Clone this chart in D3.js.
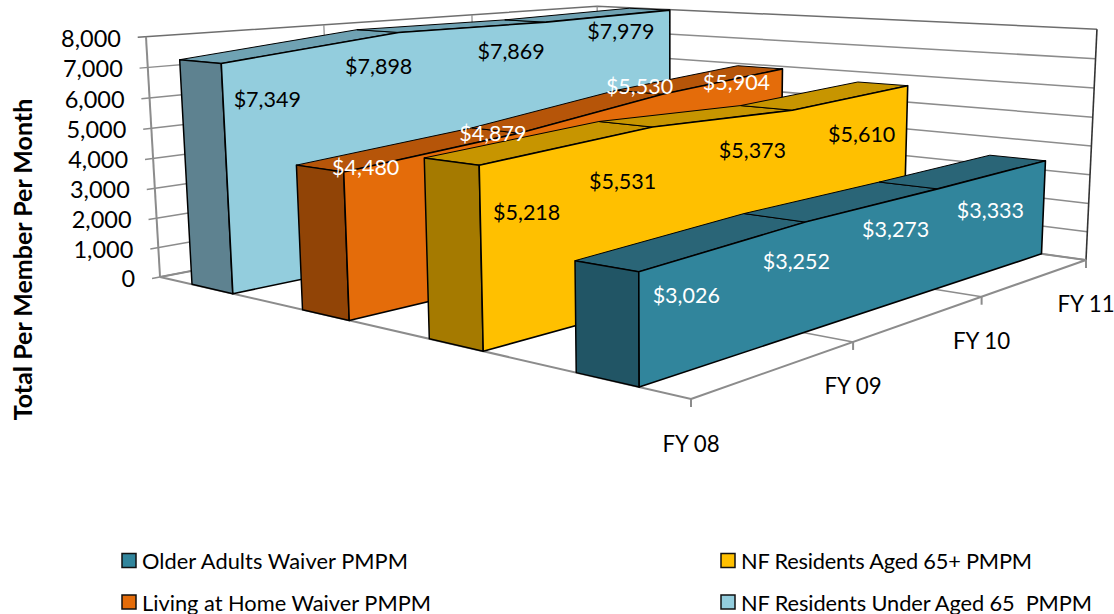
<!DOCTYPE html>
<html>
<head>
<meta charset="utf-8">
<script src="https://cdnjs.cloudflare.com/ajax/libs/d3/7.8.5/d3.min.js"></script>
<style>
html,body{margin:0;padding:0;background:#fff;}
svg{display:block;}
text{font-family:Lato,"Open Sans",sans-serif;white-space:pre;}
</style>
</head>
<body>
<svg id="chart" width="1114" height="614"></svg>
<script>
// ---- data ----
const categories = ["FY 08","FY 09","FY 10","FY 11"];
const seriesNames = ["Older Adults Waiver PMPM","Living at Home Waiver PMPM","NF Residents Aged 65+ PMPM","NF Residents Under Aged 65  PMPM"];
// depth order along the floor, front to back
const depthOrder = ["Older Adults Waiver PMPM","NF Residents Aged 65+ PMPM","Living at Home Waiver PMPM","NF Residents Under Aged 65  PMPM"];
const olderAdults = [3026,3252,3273,3333];
const livingAtHome = [4480,4879,5530,5904];
const nfAged65 = [5218,5531,5373,5610];
const nfUnder65 = [7349,7898,7869,7979];
const valueTicks = [0,1000,2000,3000,4000,5000,6000,7000,8000];

// ---- styles and layout, kept apart from data ----
const seriesStyles = {
  "Older Adults Waiver PMPM":{values:olderAdults,front:"#31859C",top:"#2A6577",side:"#215565",label:"#ffffff",
    offsets:[[47.5,23],[-9,39],[-42,40],[-55,49]]},
  "NF Residents Aged 65+ PMPM":{values:nfAged65,front:"#FFC000",top:"#C79500",side:"#A57A00",label:"#000000",
    offsets:[[47.5,47],[-30,54],[-40,40],[-46,48]]},
  "Living at Home Waiver PMPM":{values:livingAtHome,front:"#E46C0A",top:"#B65509",side:"#914406",label:"#ffffff",
    offsets:[[22,-5],[-26,0],[-23,-8],[-46,13]]},
  "NF Residents Under Aged 65  PMPM":{values:nfUnder65,front:"#93CDDD",top:"#6FA2B3",side:"#5E8290",label:"#000000",
    offsets:[[46,36],[-20,34],[-35,29],[-49,21]]}
};

const svg = d3.select("#chart");

// Scales in chart-box units (0..1), then a perspective projection onto the page
const uScale = d3.scalePoint().domain(categories).range([0,1]);
const vScale = d3.scaleBand().domain(depthOrder).range([-0.002,0.998]).paddingInner(0.615).paddingOuter(0.3075);
const hScale = d3.scaleLinear().domain([0,8000]).range([0,1]);
const fmt = d3.format(",");

function project(u,v,h){
  const X = 691 + 820.7*u - 477.2*v - 24*h;
  const Y = 399 - 37.1*u - 29*v - 322.3*h;
  const Z = 1 + 0.392*u + 0.336*v - 0.0358*h;
  return [X/Z, Y/Z];
}
const line = d3.line();
const closed = pts => line(pts)+"Z";

// ---- walls and gridlines ----
const grid = svg.append("g").attr("fill","none");
const gridCol = "#8c8c8c";
valueTicks.forEach(t=>{
  const h = hScale(t);
  grid.append("path").attr("d",line([project(-0.014,1,h),project(1,1,h),project(1,0,h)]))
      .attr("stroke",t===8000?"#6e6e6e":gridCol).attr("stroke-width",1.5);
});
// wall verticals at categories
categories.slice(1,3).forEach(c=>{
  const u = uScale(c);
  grid.append("path").attr("d",line([project(u,1,0),project(u,1,1)])).attr("stroke",gridCol).attr("stroke-width",1.2);
});
grid.append("path").attr("d",line([project(0,1,0),project(0,1,1)])).attr("stroke",gridCol).attr("stroke-width",2);
grid.append("path").attr("d",line([project(1,1,0),project(1,1,1)])).attr("stroke",gridCol).attr("stroke-width",1.2);
grid.append("path").attr("d",line([project(1,0,0),project(1,0,1)])).attr("stroke","#333").attr("stroke-width",1.6);
// floor
grid.append("path").attr("d",closed([project(0,0,0),project(1,0,0),project(1,1,0),project(0,1,0)]))
    .attr("stroke",gridCol).attr("stroke-width",2);
categories.slice(1,3).forEach(c=>{
  const u = uScale(c);
  grid.append("path").attr("d",line([project(u,0,0),project(u,1,0)])).attr("stroke",gridCol).attr("stroke-width",1.6);
});

// ---- ribbons, back to front ----
const marks = svg.append("g").attr("stroke","#000").attr("stroke-linejoin","round");
depthOrder.slice().reverse().forEach(name=>{
  const s = seriesStyles[name];
  const v0 = vScale(name), v1 = v0 + vScale.bandwidth();
  const g = marks.append("g");
  // top faces
  d3.pairs(categories.map((c,i)=>({u:uScale(c),h:hScale(s.values[i])}))).forEach(([a,b])=>{
    g.append("path").attr("d",closed([project(a.u,v0,a.h),project(b.u,v0,b.h),project(b.u,v1,b.h),project(a.u,v1,a.h)]))
      .attr("fill",s.top).attr("stroke-width",1);
  });
  // end cap
  const h0 = hScale(s.values[0]);
  g.append("path").attr("d",closed([project(0,v0,0),project(0,v0,h0),project(0,v1,h0),project(0,v1,0)]))
    .attr("fill",s.side).attr("stroke-width",1.5);
  // front face
  const topEdge = categories.map((c,i)=>project(uScale(c),v0,hScale(s.values[i])));
  g.append("path").attr("d",closed([project(0,v0,0),...topEdge,project(1,v0,0)]))
    .attr("fill",s.front).attr("stroke-width",1.6);
});

// ---- data labels ----
const labels = svg.append("g").attr("font-size",21.5).attr("text-anchor","middle").attr("dominant-baseline","central");
depthOrder.slice().reverse().forEach(name=>{
  const s = seriesStyles[name];
  const v0 = vScale(name);
  categories.forEach((c,i)=>{
    const p = project(uScale(c),v0,hScale(s.values[i]));
    labels.append("text").attr("x",p[0]+s.offsets[i][0]).attr("y",p[1]+s.offsets[i][1])
      .attr("fill",s.label).text("$"+fmt(s.values[i]));
  });
});

// ---- value axis ----
const yAxis = svg.append("g");
valueTicks.forEach(t=>{
  const p = project(0,1,hScale(t));
  yAxis.append("text").attr("x",p[0]-25).attr("y",p[1]+1).attr("text-anchor","end")
    .attr("dominant-baseline","central").attr("font-size",23.5).attr("fill","#000").text(fmt(t));
});
svg.append("text").attr("transform","translate(32,259.5) rotate(-90)").attr("text-anchor","middle")
  .attr("font-size",25).attr("font-weight",700).attr("fill","#000")
  .text("Total Per Member Per Month");

// ---- category axis ----
const xAxis = svg.append("g");
categories.forEach(c=>{
  const p = project(uScale(c),0,0);
  xAxis.append("line").attr("x1",p[0]).attr("x2",p[0]).attr("y1",p[1]).attr("y2",p[1]+8)
    .attr("stroke",gridCol).attr("stroke-width",2);
  xAxis.append("text").attr("x",p[0]).attr("y",p[1]+44).attr("text-anchor","middle")
    .attr("dominant-baseline","central").attr("font-size",22.3).attr("fill","#000").text(c);
});

// ---- legend ----
const legendCols = [122,721];
const legendRows = [560.5,602];
const legend = svg.append("g");
const legendLayout = [
  {name:seriesNames[0],col:0,row:0,width:266},
  {name:seriesNames[1],col:0,row:1,width:289},
  {name:seriesNames[2],col:1,row:0,width:291},
  {name:seriesNames[3],col:1,row:1,width:351}
];
legendLayout.forEach(d=>{
  const x = legendCols[d.col], y = legendRows[d.row];
  legend.append("rect").attr("x",x).attr("y",y-7).attr("width",14).attr("height",14)
    .attr("fill",seriesStyles[d.name].front).attr("stroke","#111").attr("stroke-width",1.5);
  legend.append("text").attr("x",x+20).attr("y",y).attr("dominant-baseline","central")
    .attr("font-size",21.8).attr("textLength",d.width).attr("lengthAdjust","spacing")
    .attr("fill","#000").text(d.name);
});
</script>
</body>
</html>
